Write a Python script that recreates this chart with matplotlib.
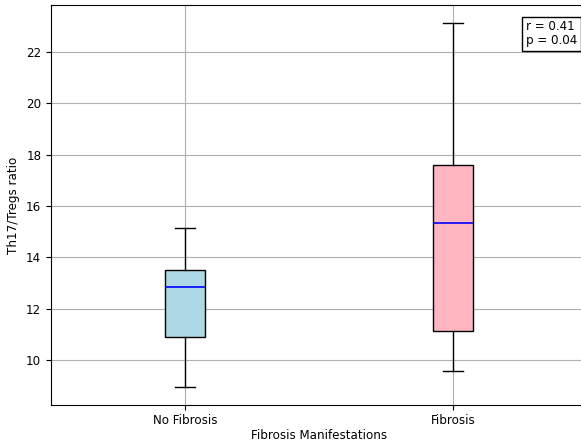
import matplotlib
matplotlib.use("Agg")
import matplotlib.pyplot as plt

# box statistics
groups = ["No Fibrosis", "Fibrosis"]
whislo = [8.95, 9.57]
q1 = [10.90, 11.13]
med = [12.84, 15.34]
q3 = [13.51, 17.60]
whishi = [15.14, 23.13]
box_colors = ["lightblue", "lightpink"]
r_val, p_val = 0.41, 0.04

plt.rcParams["font.size"] = 8.6

stats = [
    dict(label=g, whislo=lo, q1=a, med=m, q3=b, whishi=hi, fliers=[])
    for g, lo, a, m, b, hi in zip(groups, whislo, q1, med, q3, whishi)
]

fig = plt.figure(figsize=(5.81, 4.43), dpi=100)
ax = fig.add_axes([51 / 581, 38 / 443, 536 / 581, 400 / 443])

bp = ax.bxp(stats, widths=0.15, patch_artist=True,
            medianprops=dict(color="blue", linewidth=1.2))
for patch, c in zip(bp["boxes"], box_colors):
    patch.set_facecolor(c)

ax.set_xlim(0.5, 2.5)
ax.set_ylim(8.25, 23.83)
ax.tick_params(axis="x", pad=3)
ax.set_xlabel("Fibrosis Manifestations", labelpad=1.5)
ax.set_ylabel("Th17/Tregs ratio", labelpad=4)
ax.grid(True)
ax.set_axisbelow(True)

ax.text(0.886, 0.962, f"r = {r_val:.2f}\np = {p_val:.2f}", transform=ax.transAxes,
        ha="left", va="top", linespacing=1.1,
        bbox=dict(boxstyle="square,pad=0.3", facecolor="white", edgecolor="black"))

fig.savefig("out.png", dpi=100)
